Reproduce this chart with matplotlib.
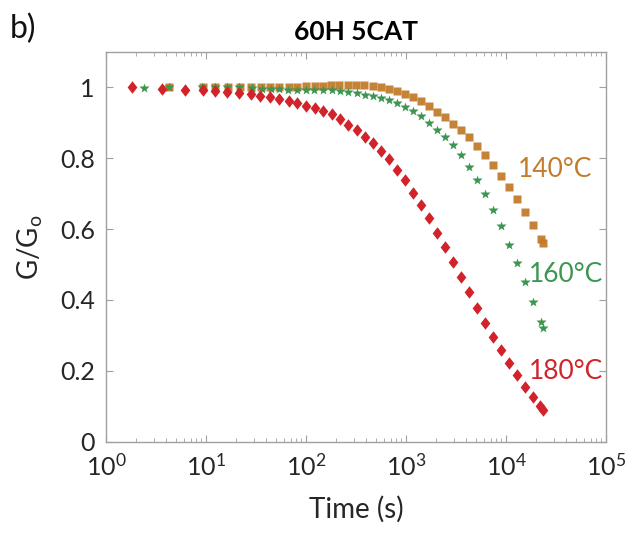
import matplotlib
matplotlib.use("Agg")
import matplotlib.pyplot as plt
import numpy as np
from matplotlib.ticker import LogLocator, FixedLocator, FuncFormatter, NullFormatter

plt.rcParams["font.family"] = ["Lato", "DejaVu Sans"]
plt.rcParams["mathtext.fontset"] = "custom"
plt.rcParams["mathtext.rm"] = "Lato"
plt.rcParams["mathtext.it"] = "Lato:italic"

# --- data ------------------------------------------------------------------
t_140 = [4.30, 9.27, 12.3, 16.7, 21.9, 28.0, 35.5, 43.7, 54.1, 67.1, 81.9, 100,
         123, 147, 179, 215, 263, 316, 384, 464, 562, 676, 813, 977, 1175, 1413,
         1698, 2042, 2455, 2951, 3548, 4266, 5129, 6166, 7413, 8913, 10715,
         12882, 15488, 18621, 22387, 23605]
g_140 = [1.0, 1.0, 1.0, 1.0, 1.0, 1.0, 1.001, 1.001, 1.001, 1.002, 1.002, 1.003,
         1.004, 1.005, 1.006, 1.007, 1.008, 1.008, 1.008, 1.004, 1.0, 0.995,
         0.989, 0.981, 0.972, 0.961, 0.947, 0.932, 0.917, 0.898, 0.879, 0.859,
         0.836, 0.809, 0.781, 0.750, 0.719, 0.685, 0.649, 0.612, 0.573, 0.562]

t_160 = [2.42, 4.30, 9.2, 12.3, 16.1, 21.5, 28.6, 36.1, 44.4, 54.1, 66.5, 81.3,
         99.3, 121, 149, 181, 219, 265, 321, 389, 464, 562, 676, 818, 977, 1175,
         1413, 1698, 2042, 2455, 2951, 3548, 4266, 5129, 6209, 7413, 8913,
         10715, 12882, 15488, 18621, 22387, 23605]
g_160 = [0.999, 1.0, 1.0, 1.0, 1.0, 1.0, 0.999, 0.997, 0.996, 0.995, 0.994,
         0.994, 0.994, 0.993, 0.992, 0.992, 0.990, 0.988, 0.985, 0.980, 0.975,
         0.971, 0.964, 0.955, 0.945, 0.933, 0.919, 0.901, 0.881, 0.861, 0.837,
         0.809, 0.776, 0.739, 0.700, 0.655, 0.608, 0.556, 0.504, 0.452, 0.395,
         0.337, 0.320]

t_180 = [1.82, 3.66, 6.17, 9.27, 12.3, 16.1, 21.5, 28.0, 34.9, 43.7, 54.1, 67.1,
         81.9, 100, 123, 149, 181, 219, 265, 321, 389, 464, 562, 676, 807, 977,
         1175, 1413, 1698, 2042, 2455, 2951, 3548, 4266, 5129, 6166, 7413, 8913,
         10715, 12882, 15488, 18621, 21878, 23605]
g_180 = [1.0, 0.997, 0.994, 0.992, 0.990, 0.988, 0.984, 0.981, 0.977, 0.972,
         0.966, 0.962, 0.956, 0.949, 0.941, 0.933, 0.924, 0.912, 0.895, 0.879,
         0.861, 0.844, 0.822, 0.797, 0.768, 0.738, 0.703, 0.668, 0.632, 0.590,
         0.549, 0.506, 0.464, 0.422, 0.378, 0.336, 0.296, 0.258, 0.222, 0.188,
         0.155, 0.126, 0.100, 0.090]

series_labels = ["140°C", "160°C", "180°C"]
label_pos = [(13200, 0.769), (17000, 0.472), (17000, 0.198)]
colors = ["#C27C2C", "#3C9650", "#D2232A"]

yticks = [0, 0.2, 0.4, 0.6, 0.8, 1]
ytick_labels = ["0", "0.2", "0.4", "0.6", "0.8", "1"]

# MATLAB-like diamond: a bit wider than matplotlib's thin 'd'
diamond = [(0, 1), (0.78, 0), (0, -1), (-0.78, 0), (0, 1)]

# --- figure ------------------------------------------------------------------
fig = plt.figure(figsize=(6.32, 5.33), dpi=100)
ax = fig.add_axes([0.1677, 0.1713, 0.7912, 0.7311])

ax.plot(t_140, g_140, "s", color=colors[0], ms=5.5, mec="none", alpha=0.95)
ax.plot(t_160, g_160, "*", color=colors[1], ms=7, mec="none")
ax.plot(t_180, g_180, marker=diamond, ls="none", color=colors[2], ms=9, mec="none")

for lab, (x, y), c in zip(series_labels, label_pos, colors):
    ax.text(x, y, lab, color=c, fontsize=19, va="center", ha="left")

ax.set_xscale("log")
ax.set_xlim(1, 1e5)
ax.set_ylim(0, 1.1)

ax.xaxis.set_major_locator(LogLocator(base=10, numticks=10))
ax.xaxis.set_minor_locator(LogLocator(base=10, subs=np.arange(2, 10), numticks=20))
ax.xaxis.set_major_formatter(FuncFormatter(lambda v, p: r"$\mathregular{10^{%d}}$" % round(np.log10(v))))
ax.xaxis.set_minor_formatter(NullFormatter())
ax.yaxis.set_major_locator(FixedLocator(yticks))
ax.set_yticklabels(ytick_labels)

grey = "#A0A0A0"
for s in ax.spines.values():
    s.set_color(grey)
    s.set_linewidth(1.0)
ax.tick_params(which="both", direction="in", top=True, right=True, color=grey,
               labelcolor="#262626", labelsize=18, pad=8)
ax.tick_params(which="major", length=5, width=0.8)
ax.tick_params(which="minor", length=3, width=0.6)

ax.set_xlabel("Time (s)", fontsize=20, color="#262626", labelpad=12)
ax.set_ylabel(r"G/G$_{\mathregular{o}}$", fontsize=20, color="#262626", labelpad=11)
ax.set_title("60H 5CAT", fontsize=19, fontweight="bold", pad=9)
fig.text(0.015, 0.975, "b)", fontsize=23, va="top", ha="left", color="#111111")

fig.savefig("out.png", dpi=100)
